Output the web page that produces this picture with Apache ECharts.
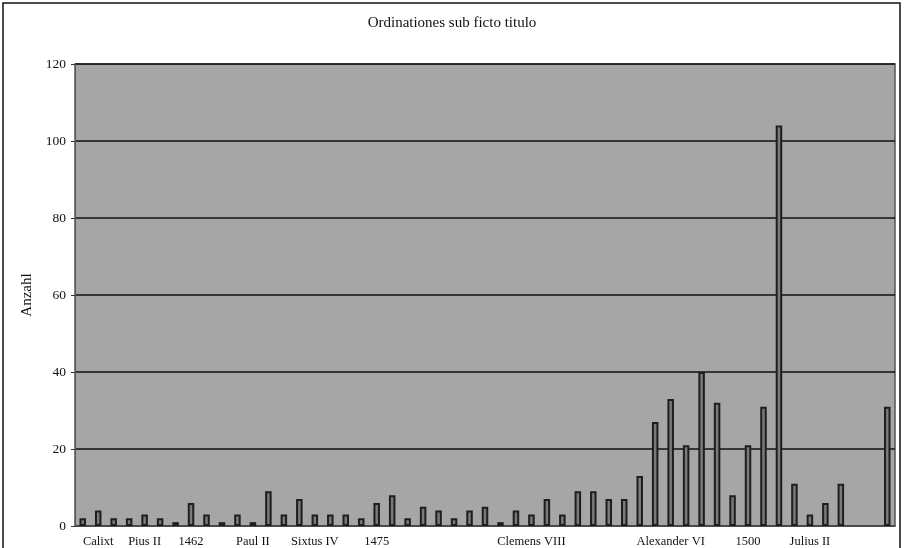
<!DOCTYPE html>
<html>
<head>
<meta charset="utf-8">
<script src="https://cdn.jsdelivr.net/npm/echarts@6/dist/echarts.min.js"></script>
<style>
html,body{margin:0;padding:0;background:#fff;}
#c{width:904px;height:548px;}
</style>
</head>
<body>
<div id="c"></div>
<script>
const chartTitle = 'Ordinationes sub ficto titulo';
const yAxisName = 'Anzahl';
const labelNames = {1:'Calixt',4:'Pius II',7:'1462',11:'Paul II',15:'Sixtus IV',19:'1475',29:'Clemens VIII',38:'Alexander VI',43:'1500',47:'Julius II'};
const values = [2,4,2,2,3,2,1,6,3,1,3,1,9,3,7,3,3,3,2,6,8,2,5,4,2,4,5,1,4,3,7,3,9,9,7,7,13,27,33,21,40,32,8,21,31,104,11,3,6,11,null,null,31];
const categories = values.map((v,i) => labelNames[i] || '');
const yTicks = {min:0, max:120, interval:20};

const chart = echarts.init(document.getElementById('c'));
const serif = '"Liberation Serif","DejaVu Serif",serif';
chart.setOption({
  animation:false,
  backgroundColor:'#ffffff',
  title:{text:chartTitle,left:'center',top:11,textStyle:{fontFamily:serif,fontSize:15,fontWeight:'normal',color:'#111'}},
  graphic:[{type:'rect',shape:{x:3,y:3,width:897,height:560},style:{fill:'none',stroke:'#111',lineWidth:1.5},silent:true,z:100}],
  grid:{left:75,right:9,top:64,bottom:18.5,show:true,backgroundColor:'#a6a6a6',borderColor:'#555',borderWidth:1.5},
  xAxis:{type:'category',data:categories,
    axisLine:{lineStyle:{color:'#555',width:1.5}},
    axisTick:{show:false},
    axisLabel:{interval:0,margin:9,fontFamily:serif,fontSize:12.5,color:'#111'}},
  yAxis:{type:'value',min:yTicks.min,max:yTicks.max,interval:yTicks.interval,
    name:yAxisName,nameLocation:'middle',nameGap:35,nameTextStyle:{fontFamily:serif,fontSize:15,color:'#111'},
    axisLine:{show:true,lineStyle:{color:'#555',width:1}},
    axisTick:{show:true,length:4,lineStyle:{color:'#333'}},
    axisLabel:{margin:9,fontFamily:serif,fontSize:13.5,color:'#111'},
    splitLine:{lineStyle:{color:'#111',width:1.5}}},
  series:[{type:'bar',data:values,barWidth:6.5,
    itemStyle:{color:'#7a7a7a',borderColor:'#1e1e1e',borderWidth:2}}]
});
</script>
</body>
</html>
